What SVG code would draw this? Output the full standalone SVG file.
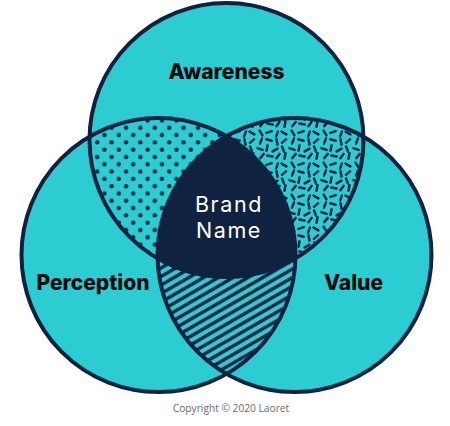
<svg xmlns="http://www.w3.org/2000/svg" xmlns:xlink="http://www.w3.org/1999/xlink" width="450" height="426" viewBox="0 0 450 426">
<style>
.fill{fill:#2ccdd2}
.ring{fill:none;stroke:#0f2340;stroke-width:4}
.lbl{font-family:Inter,"Liberation Sans",sans-serif;font-weight:800;font-size:21px;fill:#0a0a0a;text-anchor:middle}
.brand{font-family:Inter,"Liberation Sans",sans-serif;font-weight:400;font-size:21.5px;letter-spacing:1.6px;fill:#ffffff;text-anchor:middle}
.copy{font-family:"Open Sans","Liberation Sans",sans-serif;font-size:10.2px;fill:#6a6a6a;text-anchor:middle}
.dash{stroke:#0f2340;stroke-width:2.4;stroke-linecap:round}
</style>
<defs>
<clipPath id="cA"><circle cx="226.5" cy="140" r="137"/></clipPath>
<clipPath id="cL"><circle cx="158.5" cy="255" r="137"/></clipPath>
<pattern id="dots" patternUnits="userSpaceOnUse" width="14.4" height="14.6">
<rect width="14.4" height="14.6" fill="#2ccdd2"/>
<circle cx="3.6" cy="3.65" r="2.2" fill="#0f2340"/>
<circle cx="10.8" cy="10.95" r="2.2" fill="#0f2340"/>
</pattern>
<pattern id="stripes" patternUnits="userSpaceOnUse" width="10" height="7.4" patternTransform="rotate(-30)">
<rect width="10" height="7.4" fill="#2ccdd2"/>
<rect width="10" height="3.4" fill="#0f2340"/>
</pattern>
<line id="d" x1="-2.8" y1="0" x2="2.8" y2="0" class="dash"/>
<pattern id="confetti" patternUnits="userSpaceOnUse" width="32" height="32">
<rect width="32" height="32" fill="#2ccdd2"/>
<use xlink:href="#d" transform="translate(5,5) rotate(60)"/>
<use xlink:href="#d" transform="translate(13,4) rotate(-20)"/>
<use xlink:href="#d" transform="translate(21,6) rotate(110)"/>
<use xlink:href="#d" transform="translate(28,5) rotate(30)"/>
<use xlink:href="#d" transform="translate(5,13) rotate(-70)"/>
<use xlink:href="#d" transform="translate(13,12) rotate(15)"/>
<use xlink:href="#d" transform="translate(21,14) rotate(80)"/>
<use xlink:href="#d" transform="translate(28,13) rotate(-40)"/>
<use xlink:href="#d" transform="translate(4,21) rotate(20)"/>
<use xlink:href="#d" transform="translate(11,20) rotate(100)"/>
<use xlink:href="#d" transform="translate(19,22) rotate(-30)"/>
<use xlink:href="#d" transform="translate(27,21) rotate(70)"/>
<use xlink:href="#d" transform="translate(6,28) rotate(-50)"/>
<use xlink:href="#d" transform="translate(14,28) rotate(10)"/>
<use xlink:href="#d" transform="translate(22,28) rotate(125)"/>
<use xlink:href="#d" transform="translate(29,28) rotate(-80)"/>
</pattern>
</defs>
<g id="circles-fill">
<circle class="fill" cx="226.5" cy="140" r="137"/>
<circle class="fill" cx="158.5" cy="255" r="137"/>
<circle class="fill" cx="294.5" cy="255" r="137"/>
</g>
<g id="overlap-awareness-perception">
<circle cx="158.5" cy="255" r="137" fill="url(#dots)" clip-path="url(#cA)"/>
</g>
<g id="overlap-awareness-value">
<circle cx="294.5" cy="255" r="137" fill="url(#confetti)" clip-path="url(#cA)"/>
</g>
<g id="overlap-perception-value">
<circle cx="294.5" cy="255" r="137" fill="url(#stripes)" clip-path="url(#cL)"/>
</g>
<g id="brand-name">
<g clip-path="url(#cA)">
<circle cx="294.5" cy="255" r="137" fill="#0f2340" clip-path="url(#cL)"/>
</g>
</g>
<g id="outlines">
<circle class="ring" cx="226.5" cy="140" r="137"/>
<circle class="ring" cx="158.5" cy="255" r="137"/>
<circle class="ring" cx="294.5" cy="255" r="137"/>
</g>
<g id="awareness"><text class="lbl" x="226.5" y="79">Awareness</text></g>
<g id="perception"><text class="lbl" x="93" y="290">Perception</text></g>
<g id="value"><text class="lbl" x="353.5" y="290">Value</text></g>
<g id="brand-label"><text class="brand" x="229" y="212">Brand</text><text class="brand" x="229" y="238">Name</text></g>
<g id="copyright"><text class="copy" x="231" y="412">Copyright © 2020 Laoret</text></g>
</svg>
